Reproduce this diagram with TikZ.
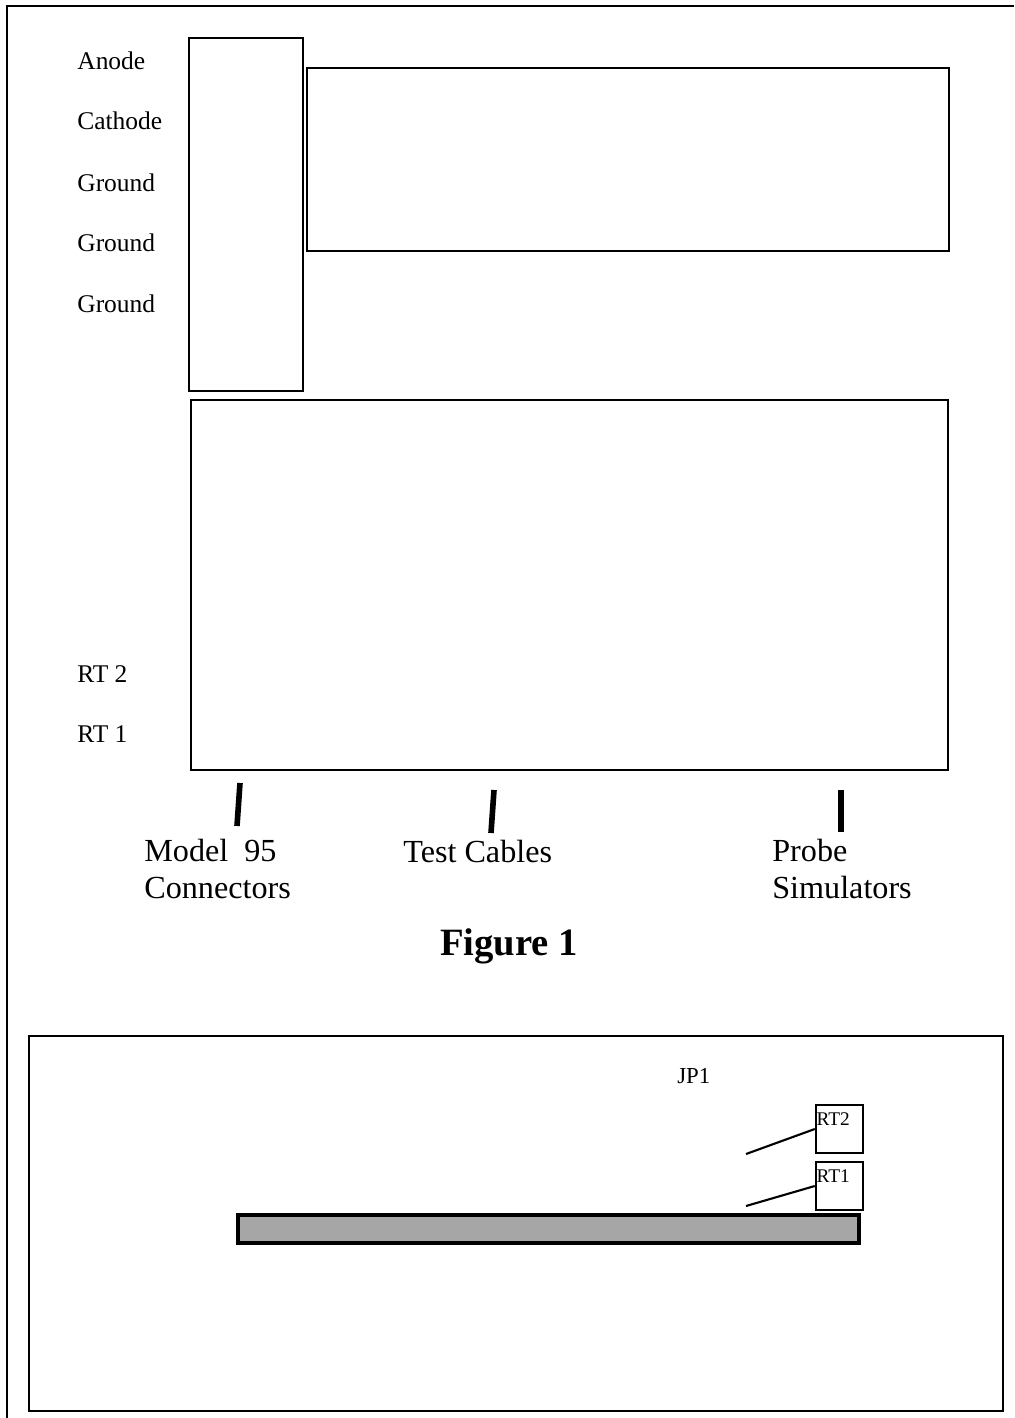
\documentclass[tikz,border=0pt]{standalone}
\usepackage{fontspec}
\setmainfont{Liberation Serif}
\usetikzlibrary{positioning}

\begin{document}
\begin{tikzpicture}[x=0.2mm,y=-0.2mm,
  frame/.style={draw,line width=1.6pt},
  lbl/.style={anchor=base west,inner sep=0pt,font=\fontsize{14.5}{17}\selectfont},
  caption/.style={anchor=base west,inner sep=0pt,font=\fontsize{18.3}{22}\selectfont},
  lead/.style={line width=3.2pt},
  wire/.style={line width=1.2pt},
  rtlabel/.style={anchor=north west,inner sep=0pt,xshift=0.3mm,yshift=-1.7mm,font=\fontsize{11}{13}\selectfont},
  rtbox/.style={draw,line width=1.4pt,minimum width=9.4mm,minimum height=9.6mm,inner sep=0pt}]
\useasboundingbox (0,0) rectangle (1014,1418);
% sheet edge
\draw[line width=1.3pt] (7,1418) -- (7,6) -- (1014,6);
% Figure 1: tester top view
\draw[frame] (189,38) rectangle (303,391);
\draw[frame] (307,68) rectangle (949,251);
\draw[frame] (191,400) rectangle (948,770);
\node[lbl] (anode)  at (77,70)  {Anode};
\node[lbl] (cath)   at (77,130) {Cathode};
\node[lbl] (gnda)   at (77,192) {Ground};
\node[lbl] (gndb)   at (77,252) {Ground};
\node[lbl] (gndc)   at (77,313) {Ground};
\node[lbl] (rtb)    at (77,682) {RT 2};
\node[lbl] (rta)    at (77,742) {RT 1};
\node[caption] (model)  at (144,861) {Model~~95};
\node[caption] (conn)   at (144,898) {Connectors};
\node[caption] (cables) at (403,862) {Test Cables};
\node[caption] (probe)  at (772,861) {Probe};
\node[caption] (sims)   at (772,898) {Simulators};
\coordinate (mtop) at (240,783);
\coordinate (ctop) at (494,790);
\coordinate (ptop) at (841,790);
\draw[lead] (mtop) -- (237,826);
\draw[lead] (ctop) -- (491,833);
\draw[lead] (ptop) -- (841,832);
\node[anchor=base,inner sep=0pt,font=\bfseries\fontsize{22}{26}\selectfont] (fig) at (509,955) {Figure 1};
% board with jumper
\draw[frame] (29,1036) rectangle (1003,1411);
\node[anchor=base west,inner sep=0pt,font=\fontsize{13}{15}\selectfont] (jp) at (677,1083) {JP1};
\node[rtbox,label={[rtlabel]north west:RT2}] (rt2) at (839.5,1129) {};
\node[rtbox,label={[rtlabel]north west:RT1}] (rt1) at (839.5,1186) {};
\coordinate (w2) at (746,1154);
\coordinate (w1) at (746,1206);
\draw[wire] (w2) -- (rt2.west);
\draw[wire] (w1) -- (rt1.west);
\draw[line width=2.2pt,fill=black!35] (238,1215) rectangle (859,1243);
\end{tikzpicture}
\end{document}
